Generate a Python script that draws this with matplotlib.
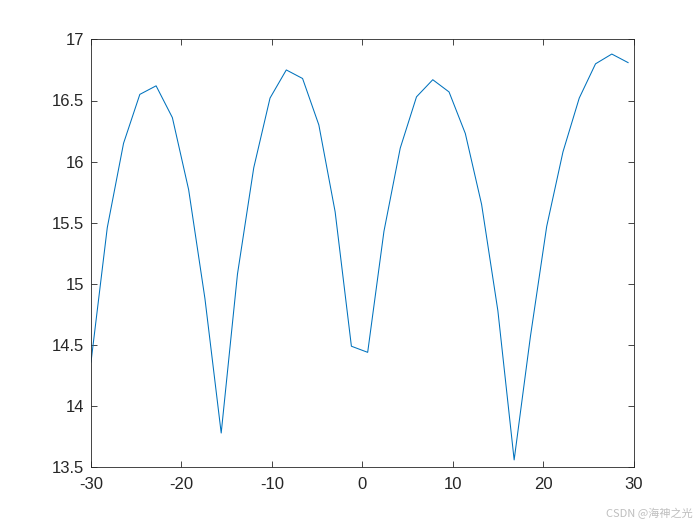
import numpy as np
import matplotlib
matplotlib.use("Agg")
import matplotlib.pyplot as plt

# -------------------------------------------------------------------
# Data (x = -30:1.8:29.4)
# -------------------------------------------------------------------
x = np.arange(34) * 1.8 - 30
y = [14.36, 15.46, 16.15, 16.55, 16.62, 16.36, 15.77, 14.88, 13.78, 15.08,
     15.95, 16.52, 16.75, 16.68, 16.30, 15.59, 14.49, 14.44, 15.43, 16.11,
     16.53, 16.67, 16.57, 16.23, 15.65, 14.78, 13.56, 14.57, 15.47, 16.08,
     16.52, 16.80, 16.88, 16.81]

xticks = [-30, -20, -10, 0, 10, 20, 30]
yticks = [13.5, 14, 14.5, 15, 15.5, 16, 16.5, 17]
ytick_labels = ["13.5", "14", "14.5", "15", "15.5", "16", "16.5", "17"]

# -------------------------------------------------------------------
# Plot (MATLAB-like look)
# -------------------------------------------------------------------
plt.rcParams["font.family"] = ["Liberation Sans", "DejaVu Sans"]
plt.rcParams["axes.unicode_minus"] = False
axc = (0.15, 0.15, 0.15)

fig = plt.figure(figsize=(7, 5.25), dpi=100)
ax = fig.add_axes([0.13, 0.11, 0.775, 0.815])
ax.plot(x, y, color=(0, 0.447, 0.741), linewidth=0.75)

ax.set_xlim(-30, 30)
ax.set_ylim(13.5, 17)
ax.set_xticks(xticks)
ax.set_yticks(yticks)
ax.set_yticklabels(ytick_labels)
ax.tick_params(direction="in", top=True, right=True, length=4, width=0.6,
               colors=axc, labelsize=12)
ax.tick_params(axis="x", pad=7)
ax.tick_params(axis="y", pad=5)
for s in ax.spines.values():
    s.set_color(axc)
    s.set_linewidth(0.6)

fig.text(0.99, 0.012, "CSDN @海神之光", ha="right", va="bottom", fontsize=8,
         color=(0.75, 0.75, 0.75), family=["Noto Sans CJK SC", "DejaVu Sans"])

fig.savefig("out.png", dpi=100)
